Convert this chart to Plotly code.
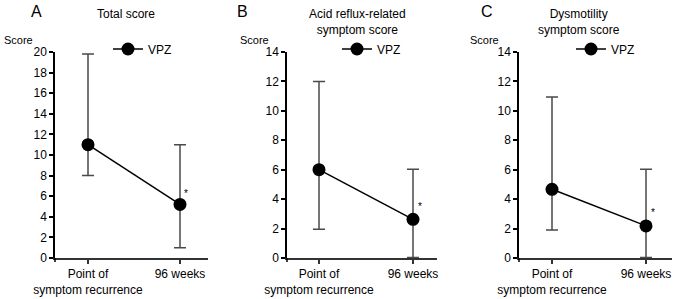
import plotly.graph_objects as go

W, H = 677, 299

categories = ["Point of<br>symptom recurrence", "96 weeks"]
series_name = "VPZ"

total_mean = [11.0, 5.2]
total_upper = [19.8, 11.0]
total_lower = [8.0, 1.0]

acid_mean = [6.0, 2.63]
acid_upper = [12.0, 6.03]
acid_lower = [1.95, 0.03]

dys_mean = [4.67, 2.18]
dys_upper = [10.94, 6.03]
dys_lower = [1.9, 0.03]

titles = ["Total score", "Acid reflux-related<br>symptom score", "Dysmotility<br>symptom score"]
letters = ["A", "B", "C"]
y_max = [20, 14, 14]
star_y = [6.3, 3.5, 3.06]

panels = [
    (total_mean, total_upper, total_lower),
    (acid_mean, acid_upper, acid_lower),
    (dys_mean, dys_upper, dys_lower),
]

# pixel layout: (y-axis x, cat1 x, cat2 x, x-axis end)
px_layout = [(55, 88, 180, 208), (287, 319, 413, 437), (519, 552, 646, 672)]
title_x = [126, 357, 579]
letter_x = [36, 242, 487]
score_x = [18, 254, 484]
legend_x = [128, 357, 591]
y_top_px, y_zero_px = 52, 258

FONT = "Liberation Sans, Arial, Helvetica, sans-serif"

fig = go.Figure()

for i, (m, up, lo) in enumerate(panels):
    ax = "" if i == 0 else str(i + 1)
    xs = [0, 1]
    fig.add_trace(go.Scatter(
        x=xs, y=m, mode="lines+markers", name=series_name,
        xaxis="x" + ax, yaxis="y" + ax,
        line=dict(color="black", width=1.5),
        marker=dict(color="black", size=13),
        error_y=dict(type="data", symmetric=False,
                     array=[u - v for u, v in zip(up, m)],
                     arrayminus=[v - l for v, l in zip(m, lo)],
                     color="#4a4a4a", thickness=1.5, width=6),
        legend="legend" if i == 0 else "legend" + str(i + 1),
        showlegend=True,
    ))
    yax, c1, c2, xend = px_layout[i]
    sp = c2 - c1
    xr = [-(c1 - yax) / sp, 1 + (xend - c2) / sp]
    fig.update_layout(**{
        "xaxis" + ax: dict(
            domain=[yax / W, xend / W], range=xr, automargin=False,
            tickvals=xs, ticktext=categories,
            showline=True, linecolor="#333333", linewidth=1.5,
            ticks="outside", ticklen=4, tickcolor="#333333", tickwidth=1.5,
            showgrid=False, zeroline=False,
            anchor="y" + ax,
            tickfont=dict(family=FONT, size=12, color="black"),
        ),
        "yaxis" + ax: dict(
            domain=[1 - y_zero_px / H, 1 - y_top_px / H], range=[0, y_max[i]],
            automargin=False,
            dtick=2, showline=True, linecolor="black", linewidth=1.5,
            ticks="outside", ticklen=4, tickcolor="black", tickwidth=1.5,
            showgrid=False, zeroline=False,
            anchor="x" + ax,
            tickfont=dict(family=FONT, size=12, color="black"),
        ),
        ("legend" if i == 0 else "legend" + str(i + 1)): dict(
            x=(legend_x[i] - 20) / W, y=1 - 49 / H, xanchor="left", yanchor="middle",
            bgcolor="rgba(0,0,0,0)", font=dict(family=FONT, size=12, color="black"),
            itemwidth=30,
        ),
    })
    # small extension of y-axis below x-axis
    fig.add_shape(type="line", xref="paper", yref="paper",
                  x0=yax / W, x1=yax / W, y0=1 - y_zero_px / H, y1=1 - (y_zero_px + 4) / H,
                  line=dict(color="black", width=1.5))
    fig.add_annotation(x=1.07, y=star_y[i], xref="x" + ax, yref="y" + ax,
                       text="*", showarrow=False, font=dict(family=FONT, size=10, color="black"))
    fig.add_annotation(x=title_x[i] / W, y=1 - 5 / H, xref="paper", yref="paper",
                       text=titles[i], showarrow=False, xanchor="center", yanchor="top",
                       font=dict(family=FONT, size=12, color="black"))
    fig.add_annotation(x=letter_x[i] / W, y=1 - 12 / H, xref="paper", yref="paper",
                       text=letters[i], showarrow=False, xanchor="center", yanchor="middle",
                       font=dict(family=FONT, size=16, color="black"))
    fig.add_annotation(x=score_x[i] / W, y=1 - 40 / H, xref="paper", yref="paper",
                       text="Score", showarrow=False, xanchor="center", yanchor="middle",
                       font=dict(family=FONT, size=11, color="black"))

fig.update_layout(
    width=W, height=H, margin=dict(l=0, r=0, t=0, b=0),
    paper_bgcolor="white", plot_bgcolor="white",
    font=dict(family=FONT, color="black"),
)

fig.write_html(
    "out.html",
    config={"displayModeBar": False},
    post_script="document.body.style.margin='0';document.body.style.overflow='hidden';",
)
